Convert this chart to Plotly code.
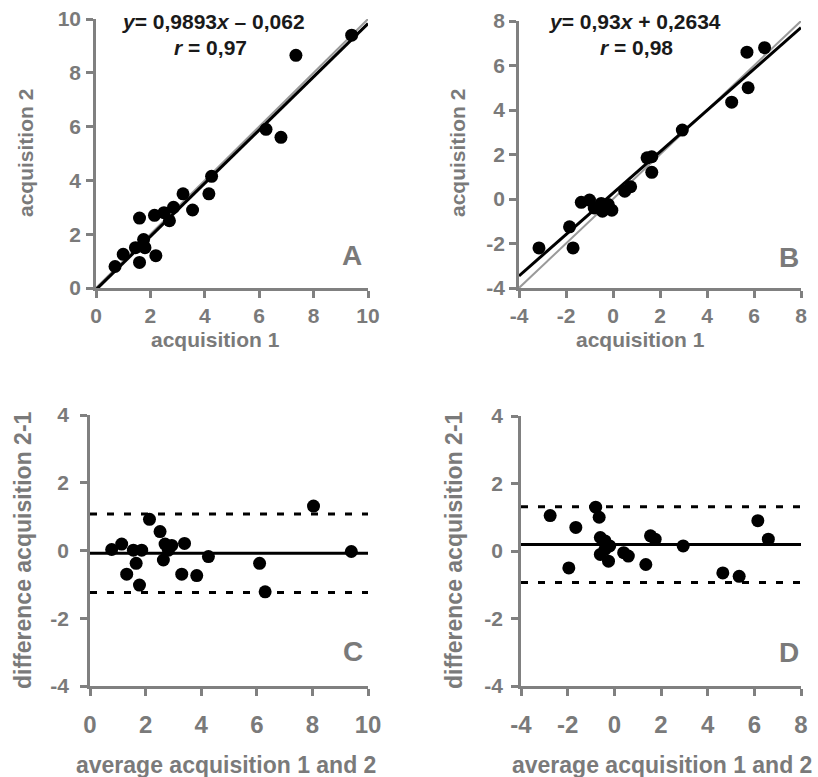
import plotly.graph_objects as go

W, H = 818, 777

# ---------------- data ----------------
a_x = [0.7, 1.0, 1.45, 1.6, 1.6, 1.75, 1.8, 2.2, 2.15, 2.5, 2.7, 2.85, 3.2, 3.55, 4.15, 4.25, 6.25, 6.8, 7.35, 9.4]
a_y = [0.8, 1.25, 1.5, 0.95, 2.6, 1.8, 1.5, 1.2, 2.7, 2.8, 2.5, 3.0, 3.5, 2.9, 3.5, 4.15, 5.9, 5.6, 8.65, 9.4]
a_slope, a_intercept = 0.9893, -0.062
a_fit_x = [0, 10]

b_x = [-3.15, -1.85, -1.7, -1.35, -1.0, -0.8, -0.5, -0.45, -0.35, -0.2, -0.05, 0.5, 0.75, 1.45, 1.65, 1.65, 2.95, 5.05, 5.7, 5.75, 6.45]
b_y = [-2.2, -1.25, -2.2, -0.15, -0.05, -0.4, -0.2, -0.55, -0.35, -0.25, -0.5, 0.35, 0.55, 1.85, 1.9, 1.2, 3.1, 4.35, 6.6, 5.0, 6.8]
b_slope, b_intercept = 0.93, 0.2634
b_fit_x = [-4, 8]

c_x = [0.78, 1.14, 1.32, 1.56, 1.66, 1.78, 1.86, 2.14, 2.52, 2.64, 2.7, 2.82, 2.94, 3.3, 3.4, 3.84, 4.26, 6.1, 6.3, 8.04, 9.4]
c_y = [0.03, 0.19, -0.7, 0.01, -0.38, -1.02, 0.01, 0.92, 0.56, -0.28, 0.19, 0.01, 0.15, -0.7, 0.21, -0.74, -0.18, -0.38, -1.22, 1.31, -0.03]
c_mean, c_upper, c_lower = -0.08, 1.08, -1.24
c_line_x = [0, 10]

d_x = [-2.75, -1.95, -1.65, -0.8, -0.65, -0.6, -0.6, -0.4, -0.4, -0.25, -0.2, 0.4, 0.6, 1.35, 1.55, 1.75, 2.95, 4.65, 5.35, 6.15, 6.6]
d_y = [1.05, -0.5, 0.7, 1.3, 1.0, 0.4, -0.1, 0.3, 0.05, -0.3, 0.15, -0.05, -0.15, -0.4, 0.45, 0.35, 0.15, -0.65, -0.75, 0.9, 0.35]
d_mean, d_upper, d_lower = 0.19, 1.31, -0.93
d_line_x = [-4, 8]

ticks_a = [0, 2, 4, 6, 8, 10]
ticks_b = [-4, -2, 0, 2, 4, 6, 8]
ticks_cd_y = [-4, -2, 0, 2, 4]
labels_a = ["0", "2", "4", "6", "8", "10"]
labels_b = ["-4", "-2", "0", "2", "4", "6", "8"]
labels_cd_y = ["-4", "-2", "0", "2", "4"]

# ---------------- style ----------------
GRAY = "#808080"
TXT = "#7a7a7a"
FONT = "Liberation Sans, Arial, sans-serif"
MS = 13


def px(x):
    return x / W


def py(y):
    return 1 - y / H


fig = go.Figure()


def scatter(xs, ys, n):
    fig.add_trace(go.Scatter(x=xs, y=ys, mode="markers", xaxis=f"x{n}", yaxis=f"y{n}",
                             marker=dict(color="black", size=MS), cliponaxis=False,
                             showlegend=False, hoverinfo="skip"))


def line(xs, ys, n, color="black", width=2.5, dash="solid"):
    fig.add_trace(go.Scatter(x=xs, y=ys, mode="lines", xaxis=f"x{n}", yaxis=f"y{n}",
                             line=dict(color=color, width=width, dash=dash),
                             showlegend=False, hoverinfo="skip"))


# Panel A
line(a_fit_x, a_fit_x, 1, color="#9a9a9a", width=2)
line(a_fit_x, [a_slope * v + a_intercept for v in a_fit_x], 1, width=3)
scatter(a_x, a_y, 1)
# Panel B
line(b_fit_x, b_fit_x, 2, color="#9a9a9a", width=2)
line(b_fit_x, [b_slope * v + b_intercept for v in b_fit_x], 2, width=3)
scatter(b_x, b_y, 2)
# Panel C
line(c_line_x, [c_upper, c_upper], 3, dash="7px,10px", width=3)
line(c_line_x, [c_lower, c_lower], 3, dash="7px,10px", width=3)
line(c_line_x, [c_mean, c_mean], 3, width=3)
scatter(c_x, c_y, 3)
# Panel D
line(d_line_x, [d_upper, d_upper], 4, dash="7px,10px", width=3)
line(d_line_x, [d_lower, d_lower], 4, dash="7px,10px", width=3)
line(d_line_x, [d_mean, d_mean], 4, width=3)
scatter(d_x, d_y, 4)


def axis(domain, rng, ticks, labels, anchor, standoff, size=21):
    return dict(domain=domain, range=rng, tickvals=ticks, ticktext=labels, anchor=anchor,
                showline=True, linecolor=GRAY, linewidth=2.5,
                ticks="outside", ticklen=7, tickwidth=2.5, tickcolor=GRAY,
                showgrid=False, zeroline=False, fixedrange=True, automargin=False,
                ticklabelstandoff=standoff,
                tickfont=dict(family=FONT, size=size, color=TXT, weight="bold"))


fig.update_layout(
    width=W, height=H, margin=dict(l=0, r=0, t=0, b=0, pad=0, autoexpand=False),
    paper_bgcolor="white", plot_bgcolor="white",
    xaxis=axis([px(96), px(368)], [0, 10], ticks_a, labels_a, "y", 0),
    yaxis=axis([py(288), py(19)], [0, 10], ticks_a, labels_a, "x", 1),
    xaxis2=axis([px(519), px(801)], [-4, 8], ticks_b, labels_b, "y2", 0),
    yaxis2=axis([py(288), py(21)], [-4, 8], ticks_b, labels_b, "x2", 0),
    xaxis3=axis([px(90), px(368)], [0, 10], ticks_a, labels_a, "y3", 8, size=24),
    yaxis3=axis([py(686), py(415)], [-4, 4], ticks_cd_y, labels_cd_y, "x3", 7),
    xaxis4=axis([px(521), px(801)], [-4, 8], ticks_b, labels_b, "y4", 8, size=24),
    yaxis4=axis([py(686), py(416)], [-4, 4], ticks_cd_y, labels_cd_y, "x4", 4),
)

ann = []


def text(x, y, s, size=21, color=TXT, angle=0):
    ann.append(dict(x=px(x), y=py(y), xref="paper", yref="paper", text=s, showarrow=False,
                    textangle=angle, xanchor="center", yanchor="middle",
                    font=dict(family=FONT, size=size, color=color, weight="bold")))


# axis titles
text(25, 153, "acquisition 2", angle=-90)
text(457, 153, "acquisition 2", angle=-90)
text(215, 339, "acquisition 1")
text(640, 339, "acquisition 1")
text(23, 550, "difference acquisition 2-1", size=23, angle=-90)
text(454, 550, "difference acquisition 2-1", size=23, angle=-90)
text(226, 765, "average acquisition 1 and 2", size=23)
text(662, 765, "average acquisition 1 and 2", size=23)
# panel letters
text(352, 255, "A", size=28)
text(789, 257, "B", size=28)
text(353, 651, "C", size=28)
text(789, 652, "D", size=28)
# equations
EQ = "#1a1a1a"
text(213, 22, "<i>y</i>= 0,9893<i>x</i> \u2013 0,062", size=21, color=EQ)
text(210, 48, "<i>r</i> = 0,97", size=21, color=EQ)
text(635, 22, "<i>y</i>= 0,93<i>x</i> + 0,2634", size=21, color=EQ)
text(636, 48, "<i>r</i> = 0,98", size=21, color=EQ)

fig.update_layout(annotations=ann)
fig.write_html("out.html", config={"displayModeBar": False},
               post_script="document.body.style.margin='0';document.body.style.padding='0';"
                           "document.documentElement.style.overflow='hidden';")
